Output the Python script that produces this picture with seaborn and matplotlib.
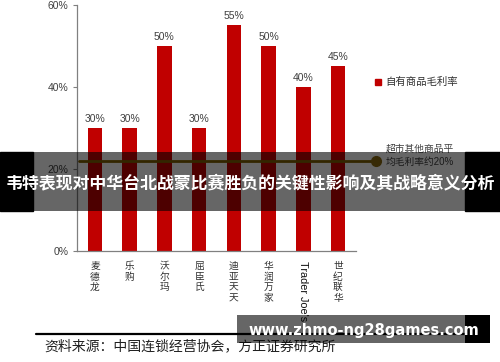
import matplotlib
matplotlib.use("Agg")
import matplotlib.pyplot as plt
import seaborn as sns
import pandas as pd
from matplotlib.patches import Rectangle
from matplotlib.lines import Line2D

categories = ["麦德龙", "乐购", "沃尔玛", "屈臣氏", "迪亚天天", "华润万家", "Trader Joe's", "世纪联华"]
margins = [0.30, 0.30, 0.50, 0.30, 0.55, 0.50, 0.40, 0.45]
yticks = [0, 0.2, 0.4, 0.6]
ytick_labels = ["0%", "20%", "40%", "60%"]
avg_margin = 0.22
legend_label = "自有商品毛利率"
avg_note = "超市其他商品平\n均毛利率约20%"
source = "资料来源：中国连锁经营协会，方正证券研究所"
banner = "韦特表现对中华台北战蒙比赛胜负的关键性影响及其战略意义分析"
watermark = "www.zhmo-ng28games.com"

sns.set_theme(style="white")
plt.rcParams['font.family'] = ['Liberation Sans', 'Noto Sans CJK SC', 'DejaVu Sans']

W, H = 500, 362
fig = plt.figure(figsize=(5, 3.62), dpi=100)
ax = fig.add_axes([77 / W, (H - 251) / H, 279 / W, 246 / H])
df = pd.DataFrame({"store": categories, "margin": margins})
sns.barplot(data=df, x="store", y="margin", color="#C00000", width=0.42,
            saturation=1, ax=ax, edgecolor="none")
ax.set_xlim(-0.52, 7.52)
ax.set_ylim(0, 0.6)
ax.set_xlabel("")
ax.set_ylabel("")
ax.bar_label(ax.containers[0], labels=[f"{v*100:.0f}%" for v in margins],
             padding=3, fontsize=7.5, color="#404040")
ax.set_yticks(yticks)
ax.set_yticklabels(ytick_labels, fontsize=7.5, color="#404040")
ax.tick_params(axis="y", left=True, length=3, width=0.8, color="#808080", pad=3)
ax.tick_params(axis="x", bottom=False, pad=1)
for s in ["top", "right"]:
    ax.spines[s].set_visible(False)
for s in ["left", "bottom"]:
    ax.spines[s].set_color("#808080")
    ax.spines[s].set_linewidth(0.9)

labels = []
for c in categories:
    if all(ord(ch) > 127 for ch in c):
        labels.append("\n".join(c))
    else:
        labels.append(c)
ax.set_xticks(range(len(categories)))
ax.set_xticklabels(labels, fontsize=7, color="#303030", linespacing=1.1)
for i, t in enumerate(ax.get_xticklabels()):
    t.set_va("top")
    if not all(ord(ch) > 127 for ch in categories[i]):
        t.set_rotation(-90)
        t.set_fontsize(7.8)
        t.set_color("#101010")

# average margin reference line
ax.plot([-0.45, 8.1], [avg_margin, avg_margin], color="#7F6000", lw=2, clip_on=False, zorder=4)
ax.plot([8.1], [avg_margin], "o", ms=7, color="#8B6A10", clip_on=False, zorder=5)
fig.text(386 / W, 1 - 155.5 / H, avg_note, fontsize=7, color="#404040",
         va="center", ha="left", linespacing=1.45)

# legend
fig.add_artist(Rectangle((375 / W, 1 - 85 / H), 6 / W, 6 / H, transform=fig.transFigure,
                         color="#C00000"))
fig.text(385 / W, 1 - 82 / H, legend_label, fontsize=7.5, color="#303030", va="center")

# source line
fig.add_artist(Line2D([36 / W, 470 / W], [1 - 334 / H] * 2, color="black", lw=1.6,
                      transform=fig.transFigure))
fig.text(44 / W, 1 - 346 / H, source, fontsize=10, color="#202020", va="center")

# banner overlay
fig.add_artist(Rectangle((0, 1 - 211 / H), 33 / W, 59 / H, transform=fig.transFigure,
                         color="black", zorder=10))
fig.add_artist(Rectangle((465 / W, 1 - 211 / H), 35 / W, 59 / H, transform=fig.transFigure,
                         color="black", zorder=10))
fig.add_artist(Rectangle((33 / W, 1 - 211 / H), 432 / W, 59 / H, transform=fig.transFigure,
                         color="black", alpha=0.6, zorder=10, lw=0))
fig.text(250 / W, 1 - 183 / H, banner, fontsize=12.2, color="white", weight="bold",
         ha="center", va="center", zorder=11,
         family=['Noto Sans CJK SC', 'DejaVu Sans'])

# watermark overlay
fig.add_artist(Rectangle((237 / W, 1 - 343 / H), 228 / W, 28 / H, transform=fig.transFigure,
                         color="black", alpha=0.6, zorder=10, lw=0))
fig.add_artist(Rectangle((465 / W, 1 - 343 / H), 25 / W, 28 / H, transform=fig.transFigure,
                         color="black", zorder=10, lw=0))
fig.text(364 / W, 1 - 330 / H, watermark, fontsize=10.5, color="white", weight="bold",
         ha="center", va="center", zorder=11, family=['DejaVu Sans'])

fig.savefig("out.png", dpi=100)
